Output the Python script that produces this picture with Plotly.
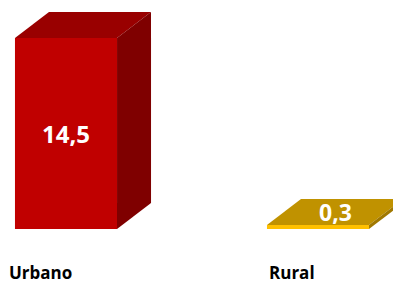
import plotly.graph_objects as go

categories = ["Urbano", "Rural"]
values = [14.5, 0.3]
value_labels = ["14,5", "0,3"]
front_colors = ["#C00000", "#FFC000"]
top_colors = ["#990000", "#C09200"]
side_colors = ["#7F0000", "#A07800"]

W, H = 393, 284
mb = 55
plot_h = H - mb
ymax = 17.39
px_per_unit_y = plot_h / ymax
x0, x1 = -0.2619, 1.2976
px_per_unit_x = W / (x1 - x0)
bar_w = 0.405
dx = 34 / px_per_unit_x
dy = 26 / px_per_unit_y

fig = go.Figure()
pos = list(range(len(categories)))
fig.add_trace(go.Bar(x=pos, y=values, width=bar_w,
                     marker=dict(color=front_colors, line=dict(width=0)),
                     hoverinfo="skip", showlegend=False))
for i, v in enumerate(values):
    xl, xr = pos[i] - bar_w / 2, pos[i] + bar_w / 2
    fig.add_trace(go.Scatter(x=[xl, xr, xr + dx, xl + dx, xl], y=[v, v, v + dy, v + dy, v],
                             fill="toself", fillcolor=top_colors[i], mode="lines",
                             line=dict(width=0), hoverinfo="skip", showlegend=False))
    fig.add_trace(go.Scatter(x=[xr, xr + dx, xr + dx, xr, xr], y=[0, dy, v + dy, v, 0],
                             fill="toself", fillcolor=side_colors[i], mode="lines",
                             line=dict(width=0), hoverinfo="skip", showlegend=False))
    if v > 2:
        fig.add_annotation(x=pos[i], y=v / 2, text=value_labels[i], showarrow=False,
                           font=dict(family="Open Sans", size=24, color="white", weight="bold"))
    else:
        fig.add_annotation(x=pos[i] + dx / 2, y=v + dy / 2, text=value_labels[i], showarrow=False,
                           font=dict(family="Open Sans", size=23, color="white", weight="bold"))
    fig.add_annotation(x=pos[i], y=-43.5 / plot_h, yref="paper", yanchor="middle", xanchor="center",
                       xshift=-26, text=categories[i], showarrow=False, borderpad=0,
                       font=dict(family="Open Sans", size=17, color="black", weight="bold"))

fig.update_layout(width=W, height=H, margin=dict(l=0, r=0, t=0, b=mb),
                  paper_bgcolor="white", plot_bgcolor="white",
                  xaxis=dict(range=[x0, x1], visible=False),
                  yaxis=dict(range=[0, ymax], visible=False))
fig.write_html("out.html", config={"displayModeBar": False},
               post_script="document.body.style.margin='0';")
